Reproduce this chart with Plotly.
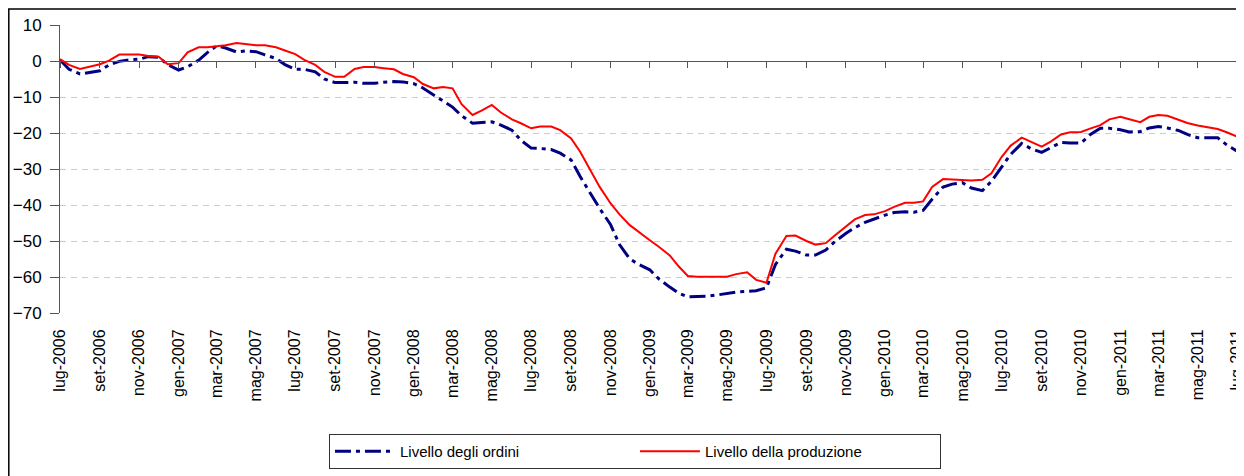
import pandas as pd
import plotly.graph_objects as go

# half-month observations, lug-2006 .. lug-2011
periods = pd.date_range('2006-07-01', '2011-07-01', freq='SMS')

# Livello degli ordini
ordini = [
    0.3, -2.3, -3.6, -3.2, -2.7, -1.1, -0.1, 0.3, 0.5, 1.2,
    1.0, -1.0, -2.5, -1.6, 0.2, 2.4, 4.2, 3.6, 2.5, 2.8,
    2.6, 1.7, 0.7, -1.0, -2.3, -2.3, -3.0, -5.0, -6.0, -6.0,
    -5.9, -6.2, -6.2, -5.9, -5.7, -5.8, -6.3, -7.5, -9.4, -11.2,
    -12.8, -15.2, -17.3, -17.1, -16.9, -17.8, -19.2, -22.0, -24.2, -24.3,
    -24.6, -25.6, -27.5, -32.1, -36.8, -40.9, -45.4, -51.0, -55.0, -56.5,
    -58.0, -60.5, -62.8, -64.5, -65.5, -65.5, -65.3, -65.0, -64.6, -64.2,
    -64.0, -63.8, -63.0, -56.5, -52.3, -52.8, -53.9, -53.9, -52.5, -50.2,
    -47.9, -46.3, -44.8, -43.8, -42.8, -42.1, -41.9, -42.0, -41.5, -38.4,
    -35.0, -34.2, -33.8, -35.3, -36.0, -33.4, -29.4, -25.9, -22.9, -24.3,
    -25.4, -24.0, -22.6, -22.8, -22.8, -20.5, -18.7, -18.7, -19.1, -19.7,
    -19.6, -18.6, -18.2, -18.6, -19.3, -20.4, -21.3, -21.3, -21.3, -23.3,
    -25.0,
]

# Livello della produzione
produzione = [
    0.5, -1.1, -2.2, -1.6, -0.9, 0.1, 1.8, 1.8, 1.8, 1.4,
    1.2, -0.9, -0.6, 2.4, 3.8, 3.8, 4.0, 4.4, 5.0, 4.7,
    4.4, 4.4, 3.8, 2.9, 1.9, 0.3, -1.1, -3.0, -4.4, -4.4,
    -2.2, -1.7, -1.7, -2.0, -2.3, -3.6, -4.5, -6.4, -7.6, -7.2,
    -7.6, -12.0, -15.0, -13.8, -12.2, -14.3, -16.2, -17.3, -18.7, -18.2,
    -18.2, -19.2, -21.5, -25.2, -30.3, -34.9, -39.5, -42.6, -45.6, -47.6,
    -49.8, -51.6, -54.0, -57.1, -59.7, -59.9, -59.9, -59.9, -59.9, -59.2,
    -58.7, -60.8, -61.6, -53.5, -48.6, -48.5, -50.0, -51.0, -50.6, -48.5,
    -46.0, -44.0, -42.8, -42.6, -41.7, -40.5, -39.4, -39.4, -39.0, -35.0,
    -32.8, -32.9, -33.2, -33.2, -33.0, -31.2, -26.6, -23.5, -21.3, -22.5,
    -23.8, -22.4, -20.4, -19.8, -19.7, -18.8, -17.8, -16.2, -15.5, -16.2,
    -17.0, -15.5, -15.0, -15.2, -16.4, -17.2, -17.9, -18.4, -18.9, -19.8,
    -21.0,
]

tick_dates = pd.date_range('2006-07-01', '2011-07-01', freq='2MS')
tick_labels = [
    'lug-2006', 'set-2006', 'nov-2006',
    'gen-2007', 'mar-2007', 'mag-2007', 'lug-2007', 'set-2007', 'nov-2007',
    'gen-2008', 'mar-2008', 'mag-2008', 'lug-2008', 'set-2008', 'nov-2008',
    'gen-2009', 'mar-2009', 'mag-2009', 'lug-2009', 'set-2009', 'nov-2009',
    'gen-2010', 'mar-2010', 'mag-2010', 'lug-2010', 'set-2010', 'nov-2010',
    'gen-2011', 'mar-2011', 'mag-2011', 'lug-2011',
]

x_range = [periods[0], periods[-1]]

fig = go.Figure()

fig.add_trace(go.Scatter(
    x=periods, y=ordini,
    mode='lines',
    name='Livello degli ordini',
    line=dict(color='#000080', width=3, dash='16px,5px,4px,5px'),
))

fig.add_trace(go.Scatter(
    x=periods, y=produzione,
    mode='lines',
    name='Livello della produzione',
    line=dict(color='#ff0000', width=2),
))

# dummy trace so the axis drawn on the zero line exists
fig.add_trace(go.Scatter(
    x=[periods[0]], y=[None], xaxis='x2', mode='lines',
    showlegend=False, hoverinfo='skip',
))

# page body has an 8px margin, so the figure is sized to fit inside it
fig.update_layout(
    width=1236, height=468,
    margin=dict(l=52, r=7, t=17, b=158),
    paper_bgcolor='white',
    plot_bgcolor='white',
    font=dict(family='Liberation Sans, Arial, sans-serif', color='black'),
    xaxis=dict(
        range=x_range,
        tickvals=tick_dates, ticktext=tick_labels,
        tickangle=-90,
        ticks='outside', ticklen=9, tickcolor='rgba(0,0,0,0)',
        tickfont=dict(size=16),
        ticklabeloverflow='allow',
        automargin=False,
        showgrid=False, showline=False, zeroline=False,
    ),
    xaxis2=dict(
        range=x_range,
        overlaying='x', anchor='free', position=0.875, side='bottom',
        tickvals=tick_dates,
        ticks='outside', ticklen=6, tickcolor='#555555',
        showticklabels=False, automargin=False,
        showgrid=False, showline=True, linecolor='#555555', linewidth=1,
        zeroline=False,
    ),
    yaxis=dict(
        range=[-70, 10], dtick=10,
        ticks='outside', ticklen=9, tickcolor='#555555',
        tickfont=dict(size=17),
        ticklabelstandoff=5,
        automargin=False,
        showline=True, linecolor='#555555', linewidth=1,
        showgrid=True, gridcolor='#cccccc', griddash='6px,5px', gridwidth=1,
        zeroline=False,
    ),
    legend=dict(
        orientation='h',
        x=0.4885, xanchor='center',
        y=-0.42, yanchor='top',
        bordercolor='#333333', borderwidth=1,
        font=dict(size=15),
        entrywidth=230,
        itemwidth=60,
    ),
    showlegend=True,
)

# outer frame of the chart area (left and top edges visible)
fig.add_shape(type='rect', xref='paper', yref='paper',
              x0=-0.0435, x1=1.2, y0=-1.0, y1=1.0555,
              line=dict(color='black', width=1.5), fillcolor='rgba(0,0,0,0)',
              layer='below')

fig.write_html('out.html')
